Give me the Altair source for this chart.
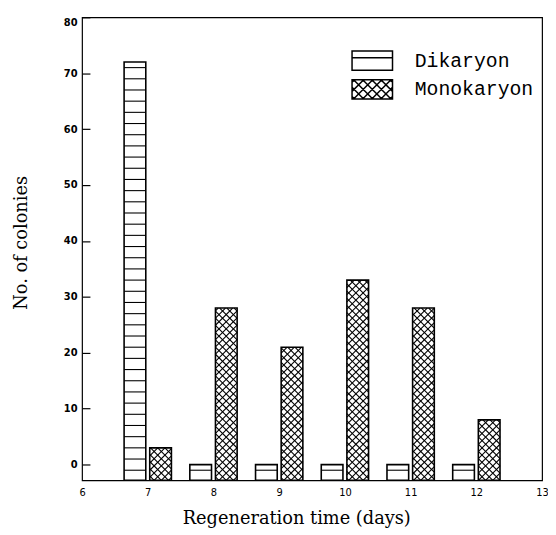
import altair as alt
import pandas as pd
import numpy as np

# ---- data ----
days = [7, 8, 9, 10, 11, 12]
dikaryon = [72, 0, 0, 0, 0, 0]
monokaryon = [3, 28, 21, 33, 28, 8]
series_names = ["Dikaryon", "Monokaryon"]
x_ticks = [6, 7, 8, 9, 10, 11, 12, 13]
y_ticks = [0, 10, 20, 30, 40, 50, 60, 70, 80]

X_MIN, X_MAX = 6, 13
Y_MIN, Y_MAX = -2.8, 80
W, H = 466, 469

rows = []
for d, v in zip(days, dikaryon):
    rows.append(dict(series="Dikaryon", day=d, value=v, x0=d - 0.36, x1=d - 0.03, base=Y_MIN))
for d, v in zip(days, monokaryon):
    rows.append(dict(series="Monokaryon", day=d, value=v, x0=d + 0.03, x1=d + 0.36, base=Y_MIN))
bars = pd.DataFrame(rows)

# ---- hatch segments derived from the bars ----
sx = W / (X_MAX - X_MIN)
sy = H / (Y_MAX - Y_MIN)
segs = []
for r in rows:
    if r["series"] == "Dikaryon":
        lvl = -1.0
        while lvl < r["value"] - 0.3:
            segs.append(dict(xa=r["x0"], xb=r["x1"], ya=lvl, yb=lvl))
            lvl += 2
    else:
        X0 = (r["x0"] - X_MIN) * sx
        X1 = (r["x1"] - X_MIN) * sx
        Y0 = 0.0
        Y1 = (r["value"] - Y_MIN) * sy
        s = 7.3
        for k in range(int(np.floor((Y0 - X1) / s)) - 1, int(np.ceil((Y1 - X0) / s)) + 2):
            c = k * s
            lo = max(X0, Y0 - c)
            hi = min(X1, Y1 - c)
            if hi - lo > 0.3:
                segs.append(dict(xa=X_MIN + lo / sx, xb=X_MIN + hi / sx,
                                 ya=Y_MIN + (lo + c) / sy, yb=Y_MIN + (hi + c) / sy))
        for k in range(int(np.floor((Y0 + X0) / s)) - 1, int(np.ceil((Y1 + X1) / s)) + 2):
            dd = k * s
            lo = max(X0, dd - Y1)
            hi = min(X1, dd - Y0)
            if hi - lo > 0.3:
                segs.append(dict(xa=X_MIN + lo / sx, xb=X_MIN + hi / sx,
                                 ya=Y_MIN + (dd - lo) / sy, yb=Y_MIN + (dd - hi) / sy))
hatch = pd.DataFrame(segs)

# ---- legend symbol paths (unit box) ----
def xhatch_path(w=2.0, h=0.95, s=0.9):
    parts = [f"M{-w},{-h}H{w}V{h}H{-w}Z"]
    for k in range(-10, 11):
        c = k * s
        lo = max(-w, -h - c); hi = min(w, h - c)
        if hi - lo > 0.02:
            parts.append(f"M{lo:.3f},{lo + c:.3f}L{hi:.3f},{hi + c:.3f}")
        lo = max(-w, c - h); hi = min(w, c + h)
        if hi - lo > 0.02:
            parts.append(f"M{lo:.3f},{c - lo:.3f}L{hi:.3f},{c - hi:.3f}")
    return " ".join(parts)

dik_path = "M-2,-0.95H2V0.95H-2Z M-2,-0.3H2"
mono_path = xhatch_path()

xscale = alt.Scale(domain=[X_MIN, X_MAX], nice=False, zero=False)
yscale = alt.Scale(domain=[Y_MIN, Y_MAX], nice=False, zero=False)

x_axis = alt.Axis(values=x_ticks, format="d", ticks=False, tickSize=0, domain=False, grid=False,
                  labelPadding=7, labelFont="DejaVu Sans", labelFontSize=10, labelColor="black",
                  labelFlush=False,
                  title="Regeneration time (days)", titleFont="DejaVu Serif", titleFontSize=18,
                  titleFontWeight="normal", titleColor="black", titleX=217, titleY=44,
                  titleBaseline="alphabetic")
y_axis = alt.Axis(values=y_ticks, offset=-8, tickSize=8, tickWidth=1.2, tickColor="black",
                  domain=False, grid=False, labelPadding=5, labelFont="DejaVu Sans",
                  labelFontWeight="bold", labelFontSize=10, labelColor="black", labelFlush=True,
                  title="No. of colonies", titleFont="DejaVu Serif", titleFontSize=18,
                  titleFontWeight="normal", titleColor="black", titleX=-69, titleY=228,
                  titleBaseline="middle")

bar_bg = alt.Chart(bars).mark_bar(fill="white", stroke=None).encode(
    x=alt.X("x0:Q", scale=xscale, axis=x_axis, title="Regeneration time (days)"),
    x2="x1:Q",
    y=alt.Y("value:Q", scale=yscale, axis=y_axis, title="No. of colonies"),
    y2="base:Q",
)

hatch_layer = alt.Chart(hatch).mark_rule(stroke="black", strokeWidth=1.1).encode(
    x=alt.X("xa:Q", scale=xscale, title="Regeneration time (days)"),
    x2="xb:Q",
    y=alt.Y("ya:Q", scale=yscale, title="No. of colonies"),
    y2="yb:Q",
)

bar_outline = alt.Chart(bars).mark_bar(fill="white", fillOpacity=0, stroke="black", strokeWidth=1.6).encode(
    x=alt.X("x0:Q", scale=xscale, title="Regeneration time (days)"),
    x2="x1:Q",
    y=alt.Y("value:Q", scale=yscale, title="No. of colonies"),
    y2="base:Q",
)

legend_layer = alt.Chart(bars).transform_filter("false").mark_point(
    filled=False, color="black", strokeWidth=1.5, size=420, opacity=1
).encode(
    x=alt.X("day:Q", scale=xscale, title="Regeneration time (days)"),
    y=alt.Y("value:Q", scale=yscale, title="No. of colonies"),
    shape=alt.Shape("series:N", scale=alt.Scale(domain=series_names, range=[dik_path, mono_path]),
                    legend=alt.Legend(title=None, orient="none", legendX=283, legendY=33, padding=0,
                                      symbolSize=420, symbolStrokeColor="black",
                                      symbolStrokeWidth=1.5, symbolOpacity=1,
                                      labelFont="Liberation Mono", labelFontSize=20, labelColor="black",
                                      labelOffset=32, rowPadding=3)),
)

chart = alt.layer(bar_bg, hatch_layer, bar_outline, legend_layer).properties(
    width=W, height=H,
    padding={"left": 75, "top": 6, "right": 6, "bottom": 50},
    autosize=alt.AutoSizeParams(type="none"),
    background="white",
).configure_view(stroke="black", strokeWidth=1.2)

chart.save("out.html", embed_options={"renderer": "svg", "actions": False})
